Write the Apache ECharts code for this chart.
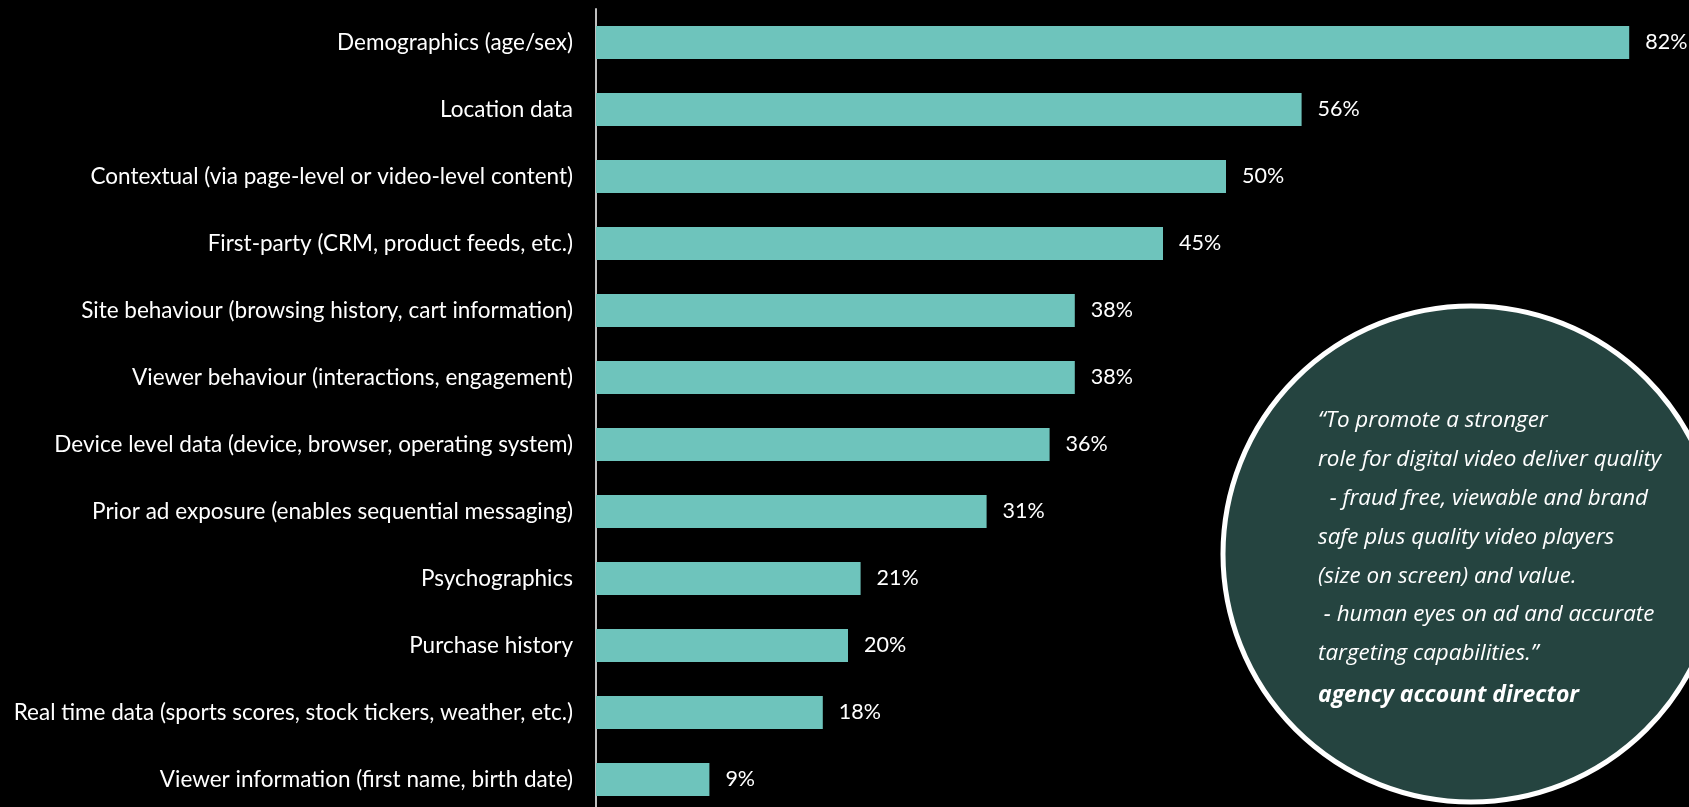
<!DOCTYPE html>
<html>
<head>
<meta charset="utf-8">
<script src="https://cdn.jsdelivr.net/npm/echarts@6/dist/echarts.min.js"></script>
<style>
  html, body { margin: 0; padding: 0; background: #000; }
  #chart { width: 1689px; height: 807px; }
</style>
</head>
<body>
<div id="chart"></div>
<script>
// Data sources used for targeting (share of respondents, %)
const categories = [
  'Demographics (age/sex)',
  'Location data',
  'Contextual (via page-level or video-level content)',
  'First-party (CRM, product feeds, etc.)',
  'Site behaviour (browsing history, cart information)',
  'Viewer behaviour (interactions, engagement)',
  'Device level data (device, browser, operating system)',
  'Prior ad exposure (enables sequential messaging)',
  'Psychographics',
  'Purchase history',
  'Real time data (sports scores, stock tickers, weather, etc.)',
  'Viewer information (first name, birth date)'
];
const shares = [82, 56, 50, 45, 38, 38, 36, 31, 21, 20, 18, 9];

const quoteLines = [
  '\u201CTo promote a stronger',
  'role for digital video deliver quality',
  '  - fraud free, viewable and brand',
  'safe plus quality video players',
  '(size on screen) and value.',
  ' - human eyes on ad and accurate',
  'targeting capabilities.\u201D'
];
const quoteAuthor = 'agency account director';

const chart = echarts.init(document.getElementById('chart'));

const quoteFont = '"Open Sans", Lato, sans-serif';
const quoteTexts = quoteLines.map((line, i) => ({
  type: 'text',
  x: 1318,
  y: 421 + i * 38.8,
  z: 20,
  style: {
    text: line,
    fill: '#ffffff',
    font: 'italic 22.4px ' + quoteFont,
    verticalAlign: 'middle'
  }
}));
quoteTexts.push({
  type: 'text',
  x: 1318,
  y: 695,
  z: 20,
  style: {
    text: quoteAuthor,
    fill: '#ffffff',
    font: 'italic bold 23px ' + quoteFont,
    verticalAlign: 'middle'
  }
});

chart.setOption({
  backgroundColor: '#000000',
  animation: false,
  grid: {
    left: 596, top: 9, width: 1260, height: 804,
    containLabel: false,
    outerBoundsMode: 'none'
  },
  xAxis: {
    type: 'value',
    min: 0,
    max: 100,
    show: false
  },
  yAxis: {
    type: 'category',
    data: categories,
    inverse: true,
    axisLine: { show: true, lineStyle: { color: '#bfbfbf', width: 2 } },
    axisTick: { show: false },
    axisLabel: {
      color: '#ffffff',
      fontFamily: 'Lato, "Open Sans", sans-serif',
      fontSize: 22.5,
      margin: 23
    },
    splitLine: { show: false }
  },
  series: [{
    type: 'bar',
    data: shares,
    barWidth: 33,
    itemStyle: { color: '#6ec4bc' },
    label: {
      show: true,
      position: 'right',
      distance: 16,
      formatter: p => p.value + '%',
      color: '#ffffff',
      fontFamily: 'Lato, "Open Sans", sans-serif',
      fontSize: 21.5
    }
  }],
  graphic: [
    {
      type: 'circle',
      z: 10,
      shape: { cx: 1471, cy: 554, r: 248 },
      style: { fill: '#254440', stroke: '#ffffff', lineWidth: 5 }
    }
  ].concat(quoteTexts)
});
</script>
</body>
</html>
